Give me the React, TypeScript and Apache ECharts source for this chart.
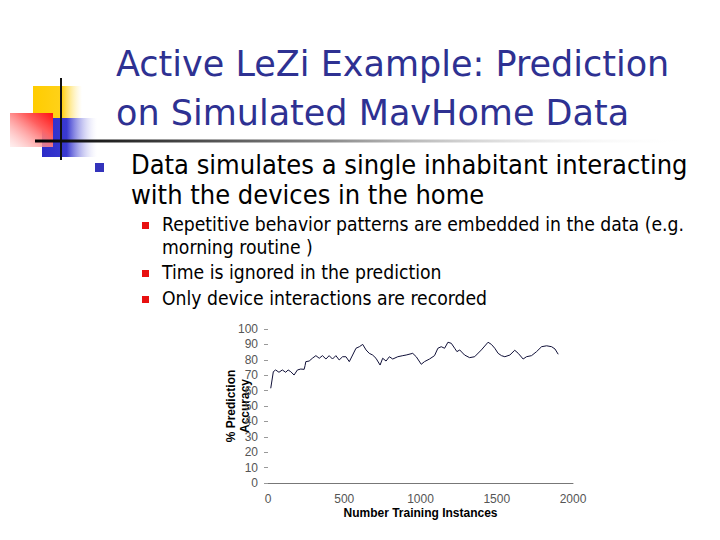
import { useEffect, useRef } from 'react';
import * as echarts from 'echarts';

// training instances (x) and % prediction accuracy (y)
const instances = [
  18, 35, 50, 72, 94, 116, 132, 149, 171, 193, 215, 237, 243, 248, 270, 291, 314, 336, 357, 380,
  401, 423, 445, 467, 489, 511, 533, 555, 577, 599, 621, 643, 664, 686, 708, 735, 752, 774, 796, 818,
  851, 884, 906, 949, 972, 1005, 1026, 1059, 1092, 1114, 1136, 1158, 1180, 1202, 1224, 1239, 1257, 1289, 1322, 1355,
  1399, 1443, 1465, 1487, 1509, 1531, 1553, 1586, 1618, 1641, 1673, 1695, 1728, 1761, 1794, 1827, 1860, 1882, 1903,
];
const accuracy = [
  61.5, 72.3, 73.4, 71.9, 73.4, 71.9, 73.4, 72.3, 70.1, 73.4, 74, 73.8, 76.2, 78.8, 79.2, 81, 82.7, 81, 82.7, 80.5,
  82.7, 80.5, 82.7, 79.9, 82, 82, 78.8, 83.1, 87.5, 88.5, 90, 86.4, 84.2, 83.1, 81, 76.6, 81, 79.2, 82, 80.5,
  82, 82.7, 83.1, 84.2, 82, 77.1, 78.8, 80.5, 82.7, 87.5, 88.5, 87.5, 91.4, 90.7, 87.5, 85.3, 86.4, 83.1, 81.4, 82,
  86.4, 91.4, 90, 87.5, 84.2, 82.7, 82, 83.1, 86.2, 84.2, 80.5, 82, 82.7, 85.3, 88.5, 89.1, 88.5, 87, 83.6,
];

const titleLines = ['Active LeZi Example: Prediction', 'on Simulated MavHome Data'];
const bulletLines = ['Data simulates a single inhabitant interacting', 'with the devices in the home'];
const subBullets = [
  ['Repetitive behavior patterns are embedded in the data (e.g.', 'morning routine )'],
  ['Time is ignored in the prediction'],
  ['Only device interactions are recorded'],
];

const titleFont = "'DejaVu Sans', sans-serif";
const slideFont = "'DejaVu Sans Condensed', 'DejaVu Sans', sans-serif";
const chartFont = "'Liberation Sans', Arial, sans-serif";

export default function App() {
  const chartRef = useRef<HTMLDivElement>(null);

  useEffect(() => {
    if (!chartRef.current) return;
    document.body.style.margin = '0';
    const instance = echarts.init(chartRef.current, undefined, { renderer: 'svg' });

    // y is the centre of the first line
    const text = (t: string, x: number, y: number, size: number, fill: string, family = slideFont, lh = size) => ({
      type: 'text',
      x,
      y: y - lh / 2,
      style: { text: t, fill, fontSize: size, fontFamily: family, textVerticalAlign: 'top', lineHeight: lh },
    });

    const graphic: any[] = [
      // logo squares
      {
        type: 'rect',
        shape: { x: 33, y: 86, width: 49, height: 32 },
        style: {
          fill: new echarts.graphic.LinearGradient(0, 0, 1, 0, [
            { offset: 0, color: '#ffcc00' },
            { offset: 0.6, color: '#ffd21a' },
            { offset: 1, color: 'rgba(255,235,150,0)' },
          ]),
        },
      },
      {
        type: 'rect',
        shape: { x: 42, y: 118, width: 55, height: 39 },
        style: {
          fill: new echarts.graphic.LinearGradient(0, 0, 1, 0, [
            { offset: 0, color: '#2b2bc8' },
            { offset: 0.45, color: '#3a3ad0' },
            { offset: 1, color: 'rgba(210,210,245,0)' },
          ]),
        },
      },
      {
        type: 'rect',
        shape: { x: 10, y: 113, width: 43, height: 34 },
        style: {
          fill: new echarts.graphic.LinearGradient(1, 0, 0, 1, [
            { offset: 0, color: '#ff1010' },
            { offset: 0.35, color: '#ff6060' },
            { offset: 1, color: 'rgba(255,225,225,0.5)' },
          ]),
        },
      },
      { type: 'rect', shape: { x: 60, y: 78, width: 2, height: 82 }, style: { fill: '#111' } },
      {
        type: 'rect',
        shape: { x: 35, y: 139.5, width: 655, height: 3 },
        style: {
          fill: new echarts.graphic.LinearGradient(0, 0, 1, 0, [
            { offset: 0, color: '#000000' },
            { offset: 0.45, color: '#8a8a8a' },
            { offset: 1, color: 'rgba(255,255,255,0)' },
          ]),
        },
      },
      // title
      text(titleLines.join('\n'), 116, 64, 35, '#2e3192', titleFont, 49),
      // main bullet
      { type: 'rect', shape: { x: 95, y: 163, width: 9, height: 9 }, style: { fill: '#3333bb' } },
      text(bulletLines.join('\n'), 131, 164, 27, '#000', slideFont, 30),
    ];

    const subY = [224, 272, 298];
    subBullets.forEach((lines, i) => {
      graphic.push({
        type: 'rect',
        shape: { x: 142, y: subY[i] - 2, width: 7, height: 7 },
        style: { fill: '#e81010' },
      });
      graphic.push(text(lines.join('\n'), 162, subY[i], 19.2, '#000', slideFont, 23));
    });

    instance.setOption({
      animation: false,
      backgroundColor: '#fff',
      grid: { left: 268, right: 147, top: 329, bottom: 57 },
      xAxis: {
        type: 'value',
        min: 0,
        max: 2000,
        interval: 500,
        name: 'Number Training Instances',
        nameLocation: 'middle',
        nameGap: 24,
        nameMoveOverlap: false,
        nameTextStyle: { fontFamily: chartFont, fontWeight: 'bold', fontSize: 12, color: '#000' },
        axisLine: { show: true, lineStyle: { color: '#777', width: 1 } },
        axisTick: { show: false },
        splitLine: { show: false },
        axisLabel: { fontFamily: chartFont, fontSize: 12, color: '#555', margin: 10, formatter: (v: number) => String(v) },
      },
      yAxis: {
        type: 'value',
        min: 0,
        max: 100,
        interval: 10,
        name: '% Prediction\nAccuracy',
        nameLocation: 'middle',
        nameGap: 16,
        nameMoveOverlap: false,
        nameTextStyle: {
          fontFamily: chartFont,
          fontWeight: 'bold',
          fontSize: 12,
          color: '#000',
          lineHeight: 14,
          align: 'center',
        },
        axisLine: { show: false },
        axisTick: { show: true, length: 4, lineStyle: { color: '#999' } },
        splitLine: { show: false },
        axisLabel: { fontFamily: chartFont, fontSize: 12, color: '#555', margin: 10 },
      },
      series: [
        {
          type: 'line',
          data: instances.map((x, i) => [x, accuracy[i]]),
          showSymbol: false,
          lineStyle: { color: '#101038', width: 1 },
        },
      ],
      graphic,
    });

    return () => {
      instance.dispose();
    };
  }, []);

  return <div ref={chartRef} style={{ width: 720, height: 540 }} />;
}
